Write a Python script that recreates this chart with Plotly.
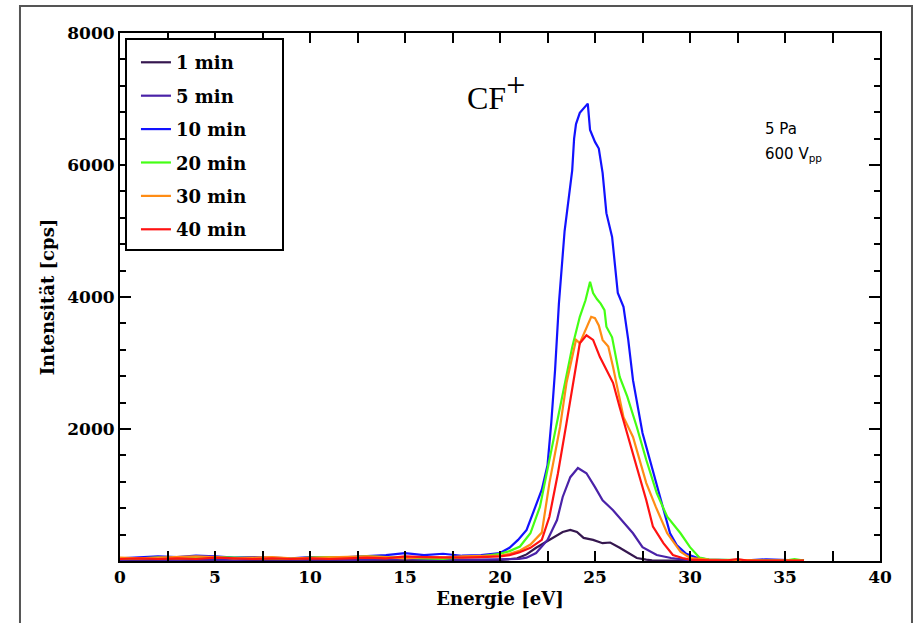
import plotly.graph_objects as go

# Ion energy distributions of CF+ at 5 Pa / 600 Vpp for different plasma times
baseline_e = [0, 1, 2, 3, 4, 5, 6, 7, 8, 9, 10, 11, 12, 13, 14, 15, 16, 17, 18, 19]

energy_1 = baseline_e + [20, 20.9, 21.4, 21.9, 22.5, 23.0, 23.3, 23.7, 24.05, 24.4, 24.9, 25.4,
                         25.8, 26.3, 26.8, 27.2, 27.7, 28, 29, 30, 32, 34, 36]
counts_1 = [10, 20, 15, 20, 10, 20, 15, 10, 20, 15, 10, 20, 15, 20, 10, 20, 15, 20, 10, 15,
            15, 40, 100, 200, 300, 390, 440, 470, 440, 350, 320, 270,
            280, 200, 120, 45, 20, 10, 5, 5, 5, 5, 5]

energy_5 = baseline_e + [20, 21, 21.4, 21.9, 22.5, 23.0, 23.3, 23.7, 24.1, 24.55, 25.0, 25.4,
                         25.95, 26.5, 27.0, 27.5, 28.25, 29, 29.6, 30, 31, 32, 34, 36]
counts_5 = [15, 25, 20, 15, 25, 20, 15, 25, 20, 15, 20, 25, 15, 20, 25, 30, 20, 25, 20, 20,
            20, 30, 50, 120, 320, 620, 970, 1270, 1410, 1330, 1120, 920,
            770, 580, 420, 210, 90, 45, 20, 10, 5, 5, 5, 5]

energy_10 = baseline_e + [20.0, 20.5, 20.95, 21.4, 21.8, 22.2, 22.5, 22.7, 22.9, 23.1, 23.4, 23.6,
                          23.8, 23.9, 24.0, 24.2, 24.55, 24.62, 24.74, 25.0, 25.2, 25.4, 25.6,
                          25.9, 26.2, 26.5, 26.75, 27.0, 27.5, 28.0, 28.5, 28.95, 29.3, 29.8,
                          30.4, 31, 32, 33, 34, 35, 36]
counts_10 = [40, 60, 70, 60, 80, 70, 50, 60, 50, 40, 60, 50, 60, 70, 90, 120, 90, 110, 80, 90,
             120, 200, 320, 470, 770, 1080, 1450, 2100, 2900, 3900, 5000, 5500,
             5920, 6400, 6620, 6790, 6910, 6930, 6530, 6350, 6250, 5880, 5270,
             4910, 4060, 3850, 3350, 2740, 1940, 1420, 920, 420, 240, 110,
             45, 20, 15, 10, 25, 10, 5]

energy_20 = baseline_e + [20, 20.5, 21.05, 21.6, 22.1, 22.6, 23.16, 23.5, 23.8, 24.2, 24.5, 24.74,
                          24.9, 25.1, 25.3, 25.5, 25.6, 25.9, 26.3, 26.7, 27.2, 27.7, 28.25,
                          28.8, 29.5, 30.0, 30.5, 31, 32, 33, 34, 35, 35.5, 36]
counts_20 = [30, 40, 50, 40, 50, 60, 50, 40, 40, 30, 50, 60, 50, 70, 60, 50, 40, 30, 60, 70,
             110, 150, 220, 420, 820, 1530, 2330, 2850, 3240, 3700, 3950, 4230,
             4060, 3970, 3900, 3800, 3550, 3390, 2790, 2490, 2030, 1530, 1030,
             670, 420, 210, 50, 20, 15, 10, 10, 5, 30, 5]

energy_30 = baseline_e + [20, 20.5, 21.05, 21.6, 22.2, 22.6, 23.16, 23.5, 24.0, 24.2, 24.55, 24.8,
                          25.0, 25.2, 25.4, 25.7, 25.95, 26.5, 27.0, 27.7, 28.2, 28.8, 29.5,
                          30, 31, 32, 33, 34, 35, 36]
counts_30 = [50, 40, 50, 60, 70, 60, 40, 50, 60, 40, 50, 50, 60, 70, 60, 40, 60, 50, 70, 80,
             80, 110, 160, 250, 430, 1180, 2030, 2700, 3350, 3300, 3550, 3700,
             3680, 3570, 3350, 3250, 2940, 2180, 1880, 1180, 820, 420, 140,
             45, 20, 10, 15, 5, 10, 5]

energy_40 = baseline_e + [20, 20.5, 21.0, 21.6, 22.2, 22.6, 23.05, 23.5, 23.85, 24.2, 24.55, 24.9,
                          25.26, 25.6, 25.95, 26.3, 26.7, 27.2, 27.7, 28.05, 28.6, 29.1, 29.6,
                          30, 31, 32, 32.5, 33, 34, 35, 36]
counts_40 = [30, 40, 30, 40, 30, 50, 40, 30, 40, 30, 40, 30, 40, 50, 40, 70, 60, 50, 50, 60,
             70, 90, 130, 200, 320, 670, 1330, 2090, 2700, 3300, 3420, 3350,
             3090, 2890, 2700, 2330, 1940, 1420, 920, 520, 270, 90, 45,
             20, 10, 10, 30, 5, 5, 5, 5]

series_names = ["1 min", "5 min", "10 min", "20 min", "30 min", "40 min"]
series_energy = [energy_1, energy_5, energy_10, energy_20, energy_30, energy_40]
series_counts = [counts_1, counts_5, counts_10, counts_20, counts_30, counts_40]
series_colors = ["#35174f", "#4a22a8", "#1212ff", "#44ff14", "#ff8c14", "#ff1212"]

x_ticks = [0, 5, 10, 15, 20, 25, 30, 35, 40]
y_ticks = [2000, 4000, 6000, 8000]

SERIF = "DejaVu Serif"

fig = go.Figure()
for name, e, c, col in zip(series_names, series_energy, series_counts, series_colors):
    fig.add_trace(go.Scatter(
        x=e, y=c, mode="lines", name=name, legendgroup=name,
        line=dict(color=col, width=2.2),
    ))

fig.update_layout(
    width=919, height=623,
    margin=dict(l=120, r=39, t=33, b=62),
    paper_bgcolor="white", plot_bgcolor="white",
    showlegend=True,
    legend=dict(
        x=0.021, y=0.979, xanchor="left", yanchor="top",
        bgcolor="rgba(0,0,0,0)", borderwidth=0,
        traceorder="grouped", tracegroupgap=7,
        font=dict(family=SERIF, size=18, color="black", weight="bold"),
    ),
    xaxis=dict(
        range=[0, 40], tickmode="array", tickvals=x_ticks,
        ticks="inside", ticklen=10, tickwidth=1.5, tickcolor="black",
        minor=dict(dtick=2.5, tick0=0, ticks="inside", ticklen=10, tickwidth=1.5, tickcolor="black"),
        showline=True, linecolor="black", linewidth=2, mirror="ticks",
        showgrid=False, zeroline=False,
        tickfont=dict(family=SERIF, size=17, color="black", weight="bold"),
        title=dict(text="Energie [eV]", standoff=6,
                   font=dict(family=SERIF, size=18, color="black", weight="bold")),
    ),
    yaxis=dict(
        range=[0, 8000], tickmode="array", tickvals=y_ticks,
        ticks="inside", ticklen=11, tickwidth=1.5, tickcolor="black",
        minor=dict(dtick=400, tick0=0, ticks="inside", ticklen=6, tickwidth=1.5, tickcolor="black"),
        showline=True, linecolor="black", linewidth=2, mirror="ticks",
        showgrid=False, zeroline=False,
        tickfont=dict(family=SERIF, size=17, color="black", weight="bold"),
        title=dict(text="Intensität [cps]", standoff=8,
                   font=dict(family=SERIF, size=18, color="black", weight="bold")),
    ),
    shapes=[
        # outer frame around the whole figure
        dict(type="rect", xref="paper", yref="paper",
             x0=-0.1316, x1=1.0421, y0=-0.15, y1=1.0511,
             line=dict(color="#555555", width=2), layer="below"),
        # legend box
        dict(type="rect", xref="paper", yref="paper",
             x0=(126 - 120) / 760, x1=(283 - 120) / 760,
             y0=(561 - 250) / 528, y1=(561 - 39) / 528,
             line=dict(color="black", width=2), fillcolor="white", layer="above"),
    ],
    annotations=[
        dict(text="CF<sup><span style='font-size:34px'>+</span></sup>", xref="paper", yref="paper",
             x=0.495, y=(561 - 64) / 528,
             showarrow=False, font=dict(family="Liberation Serif", size=32, color="black")),
        dict(text="5 Pa", xref="paper", yref="paper", x=(763 - 120) / 760, y=(561 - 118) / 528,
             xanchor="left", showarrow=False,
             font=dict(family="DejaVu Sans", size=15, color="black")),
        dict(text="600 V<sub>pp</sub>", xref="paper", yref="paper", x=(763 - 120) / 760,
             y=(561 - 143) / 528, xanchor="left", showarrow=False,
             font=dict(family="DejaVu Sans", size=15, color="black")),
    ],
)

fig.write_html("out.html")
